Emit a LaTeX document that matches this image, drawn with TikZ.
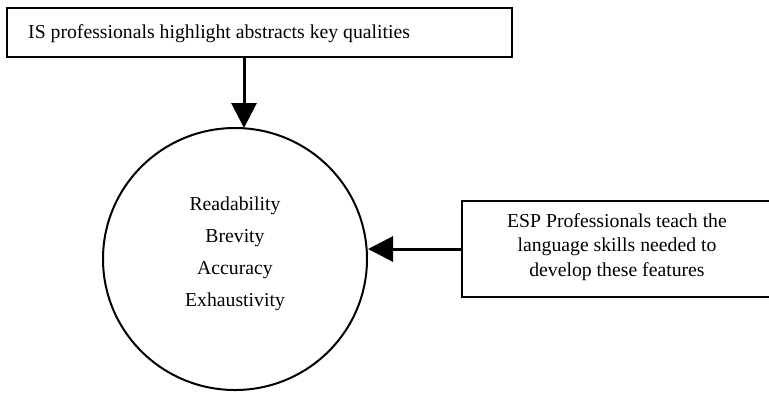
\documentclass[tikz,border=0pt]{standalone}
\usepackage{fontspec}
\setmainfont{Liberation Serif}
\usetikzlibrary{arrows.meta,shapes.geometric}
\begin{document}
\begin{tikzpicture}[x=1bp,y=-1bp,
  boxstyle/.style={draw=black,line width=2.8bp,fill=white},
  flowarrow/.style={line width=3bp,-{Triangle[length=25bp,width=25bp]}},
  txt/.style={font=\fontsize{19.8}{23}\selectfont}]
\useasboundingbox (0,0) rectangle (769,392);
% top box
\draw[boxstyle] (7,8) rectangle (512,57);
\node[txt,anchor=base west,inner sep=0pt] (toptext) at (28,38.5) {IS professionals highlight abstracts key qualities};
\coordinate (topout) at (244,57);
% circle
\node[draw=black,line width=2bp,ellipse,minimum width=264bp,minimum height=262bp,inner sep=0pt] (qual) at (235,259) {};
\node[align=center,font=\fontsize{19.8}{32}\selectfont] (quals) at (235,254) {Readability\\Brevity\\Accuracy\\Exhaustivity};
% right box
\draw[boxstyle] (462,201) rectangle (790,297);
\node[align=center,font=\fontsize{19.8}{24.5}\selectfont] (esp) at (617,247) {ESP Professionals teach the\\language skills needed to\\develop these features};
\coordinate (espin) at (462,249);
\coordinate (topin) at (244,128);
\coordinate (rightin) at (368,249);
\draw[flowarrow] (topout) -- (topin);
\draw[flowarrow] (espin) -- (rightin);
\end{tikzpicture}
\end{document}
